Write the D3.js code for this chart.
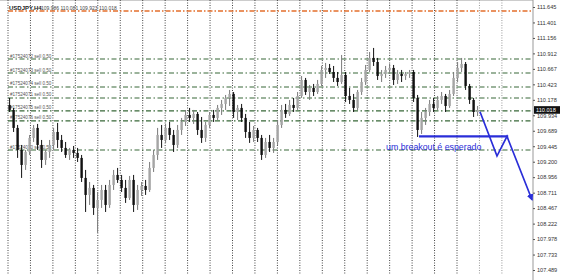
<!DOCTYPE html>
<html>
<head>
<meta charset="utf-8">
<script src="https://cdn.jsdelivr.net/npm/d3@7"></script>
<style>
  body { margin: 0; background: #fff; }
  svg { display: block; font-family: "Liberation Sans", Arial, sans-serif; }
  .y.axis text { font-size: 5.6px; fill: #333; }
  .y.axis line { stroke: #555; }
</style>
</head>
<body>
<svg width="568" height="280"></svg>
<script>
// USDJPY H4 candles, oldest first
var opens = [110.097,110.018,109.734,109.386,109.149,109.354,109.576,109.734,109.465,109.228,
  109.354,109.465,109.670,109.544,109.418,109.307,109.386,109.339,109.260,108.944,
  108.675,108.786,108.470,108.596,108.754,108.517,108.833,108.991,108.912,108.786,
  108.628,108.912,108.517,108.754,108.817,108.754,109.102,109.307,109.623,109.544,
  109.734,109.623,109.465,109.702,109.828,109.939,109.892,109.955,109.702,109.576,
  109.781,109.939,109.892,110.050,110.113,110.208,110.271,109.986,110.050,109.892,
  109.670,109.576,109.702,109.576,109.307,109.512,109.418,109.512,109.781,110.018,
  109.955,110.097,110.050,110.239,110.492,110.302,110.366,110.302,110.429,110.650,
  110.682,110.618,110.524,110.460,110.571,110.239,110.176,110.050,110.302,110.460,
  110.650,110.840,110.776,110.555,110.587,110.650,110.682,110.492,110.587,110.555,
  110.587,110.618,110.208,109.702,109.892,109.986,110.113,110.050,110.176,110.239,
  110.081,110.271,110.524,110.682,110.745,110.397,110.176,109.986];
var highs = [110.208,110.050,109.781,109.465,109.386,109.623,109.781,109.797,109.544,109.386,
  109.544,109.734,109.813,109.623,109.512,109.418,109.449,109.418,109.307,109.070,
  108.880,108.833,108.722,108.833,108.833,108.912,109.070,109.102,108.991,108.912,
  108.975,108.991,108.833,108.880,108.912,109.196,109.386,109.734,109.781,109.797,
  109.828,109.702,109.781,109.892,110.018,110.050,110.018,109.986,109.907,109.828,
  109.986,110.018,110.097,110.176,110.255,110.334,110.302,110.097,110.113,109.955,
  109.828,109.765,109.734,109.623,109.576,109.623,109.576,109.860,110.097,110.113,
  110.176,110.208,110.302,110.555,110.524,110.413,110.429,110.492,110.713,110.761,
  110.745,110.713,110.618,110.887,110.618,110.366,110.271,110.334,110.524,110.729,
  110.934,110.998,110.840,110.650,110.713,110.745,110.729,110.650,110.650,110.618,
  110.650,110.650,110.255,109.986,110.050,110.176,110.208,110.239,110.302,110.271,
  110.334,110.618,110.776,110.840,110.776,110.429,110.208,110.081];
var lows = [109.986,109.670,109.260,108.944,109.070,109.307,109.512,109.386,109.102,109.149,
  109.260,109.386,109.418,109.354,109.260,109.228,109.260,109.196,108.880,108.406,
  108.517,108.359,108.075,108.470,108.406,108.470,108.754,108.865,108.722,108.549,
  108.596,108.406,108.438,108.659,108.675,108.722,109.038,109.228,109.418,109.497,
  109.544,109.354,109.418,109.623,109.765,109.828,109.797,109.623,109.497,109.512,
  109.734,109.828,109.860,109.939,110.018,110.081,109.892,109.860,109.828,109.576,
  109.497,109.512,109.512,109.228,109.260,109.354,109.339,109.465,109.734,109.892,
  109.923,109.986,110.018,110.208,110.255,110.176,110.239,110.271,110.397,110.524,
  110.587,110.460,110.397,110.429,110.144,110.113,109.986,110.018,110.255,110.413,
  110.618,110.713,110.492,110.460,110.524,110.587,110.413,110.429,110.460,110.492,
  110.524,110.144,109.591,109.639,109.781,109.923,109.986,110.018,110.113,109.986,
  110.050,110.239,110.460,110.618,110.334,110.113,109.907,109.923];
var closes = [110.018,109.734,109.386,109.149,109.354,109.576,109.734,109.465,109.228,109.354,
  109.465,109.670,109.544,109.418,109.307,109.386,109.339,109.260,108.944,108.675,
  108.786,108.470,108.596,108.754,108.517,108.833,108.991,108.912,108.786,108.628,
  108.912,108.517,108.754,108.817,108.754,109.102,109.307,109.623,109.544,109.734,
  109.623,109.465,109.702,109.828,109.939,109.892,109.955,109.702,109.576,109.781,
  109.939,109.892,110.050,110.113,110.208,110.271,109.986,110.050,109.892,109.670,
  109.576,109.702,109.576,109.307,109.512,109.418,109.512,109.781,110.018,109.955,
  110.097,110.050,110.239,110.492,110.302,110.366,110.302,110.429,110.650,110.682,
  110.618,110.524,110.460,110.571,110.239,110.176,110.050,110.302,110.460,110.650,
  110.840,110.776,110.555,110.587,110.650,110.682,110.492,110.587,110.555,110.587,
  110.618,110.208,109.702,109.892,109.986,110.113,110.050,110.176,110.239,110.081,
  110.271,110.524,110.682,110.745,110.397,110.176,109.986,110.018];

// right price scale labels
var priceTicks = [111.645,111.401,111.156,110.912,110.667,110.423,110.178,109.934,109.689,
  109.445,109.200,108.956,108.711,108.467,108.222,107.978,107.733,107.489];

// order lines drawn on the chart
var tpLevel = 111.582;
var orderLevels = [110.823,110.602,110.381,110.207,110.002,109.844,109.385];
var orderLabels = ["#17524072 sell 0.50","#17524073 sell 0.50","#17524074 sell 0.50",
  "#17524071 sell 0.50","#17524075 sell 0.50","#17524076 sell 0.50","#17524070 sell 0.50"];

// hand drawn forecast (bar index, price)
var supportLevel = 109.600, supportFrom = 102.5, supportTo = 124.8;
var forecast = [[117.75,109.99],[122,109.29],[124.5,109.60],[130.75,108.60]];

var svg = d3.select("svg"),
    right = 533, top = 5, bottom = 280;

var x = d3.scaleLinear().domain([0, closes.length - 1]).range([9, 477]);
var y = d3.scaleLinear().domain([111.645, 107.489]).range([7, 270]);

// frame
svg.append("line").attr("x1", 0).attr("x2", right).attr("y1", top).attr("y2", top)
    .attr("stroke", "#999");
svg.append("line").attr("x1", right).attr("x2", right).attr("y1", top).attr("y2", bottom)
    .attr("stroke", "#999");

// period separators
svg.append("g").selectAll("line")
    .data(d3.range(23))
    .enter().append("line")
      .attr("x1", function(i) { return 8 + i * 22.45; })
      .attr("x2", function(i) { return 8 + i * 22.45; })
      .attr("y1", top + 1).attr("y2", 274)
      .attr("stroke", function(i) { return i > 20 ? "#999" : "#444"; })
      .attr("stroke-dasharray", "1,1.5");

// take profit line (orange) and order lines (green)
svg.append("line")
    .attr("x1", 8).attr("x2", right)
    .attr("y1", y(tpLevel)).attr("y2", y(tpLevel))
    .attr("stroke", "#e36f2c").attr("stroke-width", 1.5)
    .attr("stroke-dasharray", "5,2,1.5,2");

var orders = svg.append("g");
orders.selectAll("line")
    .data(orderLevels)
    .enter().append("line")
      .attr("x1", 8).attr("x2", right)
      .attr("y1", function(d) { return y(d); })
      .attr("y2", function(d) { return y(d); })
      .attr("stroke", "#386838").attr("stroke-width", 1.2)
      .attr("stroke-dasharray", "5,2.5,1.5,2.5");
orders.selectAll("text")
    .data(orderLevels)
    .enter().append("text")
      .attr("x", 10)
      .attr("y", function(d) { return y(d) - 1.5; })
      .attr("font-size", 4.6)
      .attr("fill", "#555")
      .text(function(d, i) { return orderLabels[i]; });

// candles
var candles = svg.append("g").selectAll("g")
    .data(closes)
    .enter().append("g");
candles.append("line")
    .attr("x1", function(d, i) { return x(i) + 0.6; })
    .attr("x2", function(d, i) { return x(i) + 0.6; })
    .attr("y1", function(d, i) { return y(highs[i]); })
    .attr("y2", function(d, i) { return y(lows[i]); })
    .attr("stroke", function(d, i) { return d < opens[i] ? "#111" : "#7a7a7a"; });
candles.append("rect")
    .attr("x", function(d, i) { return x(i) - 0.6; })
    .attr("width", 2.4)
    .attr("y", function(d, i) { return y(Math.max(d, opens[i])); })
    .attr("height", function(d, i) { return Math.max(1, Math.abs(y(d) - y(opens[i]))); })
    .attr("fill", function(d, i) { return d < opens[i] ? "#111" : "#a5a5a5"; });

// price scale
var yAxis = d3.axisRight(y)
    .tickValues(priceTicks)
    .tickSize(2)
    .tickPadding(2)
    .tickFormat(d3.format(".3f"));
svg.append("g")
    .attr("class", "y axis")
    .attr("transform", "translate(" + right + ",0)")
    .call(yAxis)
    .select(".domain").remove();

// current bid box
var last = closes[closes.length - 1];
svg.append("rect")
    .attr("x", right + 1).attr("y", y(last) - 3.8)
    .attr("width", 26).attr("height", 7.6)
    .attr("fill", "#111");
svg.append("text")
    .attr("x", right + 3).attr("y", y(last) + 2)
    .attr("font-size", 5.6).attr("fill", "#fff")
    .text(d3.format(".3f")(last));

// header
svg.append("text")
    .attr("x", 9).attr("y", 10)
    .attr("font-size", 6).attr("font-weight", "bold").attr("fill", "#222")
    .text("USDJPY,H4");
svg.append("text")
    .attr("x", 41).attr("y", 10)
    .attr("font-size", 5).attr("fill", "#444")
    .text([opens, highs, lows, closes].map(function(a) {
        return d3.format(".3f")(a[a.length - 1]);
    }).join(" "));

// forecast drawing
var blue = "#2a2ed8";
svg.append("defs").append("marker")
    .attr("id", "arrow")
    .attr("viewBox", "0 0 10 10")
    .attr("refX", 8).attr("refY", 5)
    .attr("markerWidth", 4).attr("markerHeight", 4)
    .attr("orient", "auto")
  .append("path")
    .attr("d", "M0,0L10,5L0,10z")
    .attr("fill", blue);

svg.append("line")
    .attr("x1", x(supportFrom)).attr("x2", x(supportTo))
    .attr("y1", y(supportLevel)).attr("y2", y(supportLevel))
    .attr("stroke", blue).attr("stroke-width", 2.2);

svg.append("path")
    .datum(forecast)
    .attr("d", d3.line()
        .x(function(d) { return x(d[0]); })
        .y(function(d) { return y(d[1]); }))
    .attr("fill", "none")
    .attr("stroke", blue).attr("stroke-width", 1.7)
    .attr("marker-end", "url(#arrow)");

svg.append("text")
    .attr("x", 386).attr("y", 150)
    .attr("font-size", 8.8)
    .attr("fill", blue)
    .text("um breakout é esperado");
</script>
</body>
</html>
